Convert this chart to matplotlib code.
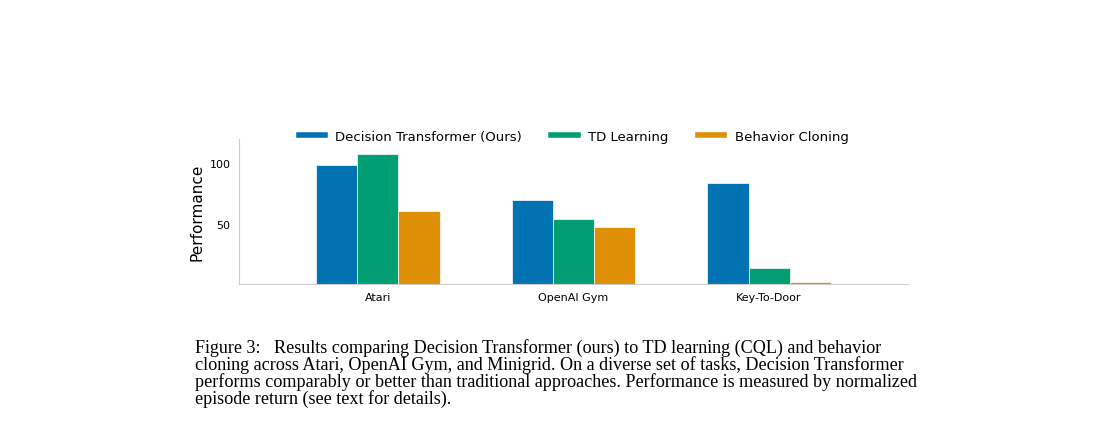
import matplotlib
matplotlib.use("Agg")
import matplotlib.pyplot as plt
import numpy as np

categories = ["Atari", "OpenAI Gym", "Key-To-Door"]
series_names = ["Decision Transformer (Ours)", "TD Learning", "Behavior Cloning"]
dt = [98.3, 69.2, 83.3]
td = [107.5, 54.2, 13.3]
bc = [60.8, 47.5, 1.7]
colors = ["#0173b2", "#029e73", "#de8f05"]
caption = [
    "Figure 3:   Results comparing Decision Transformer (ours) to TD learning (CQL) and behavior",
    "cloning across Atari, OpenAI Gym, and Minigrid. On a diverse set of tasks, Decision Transformer",
    "performs comparably or better than traditional approaches. Performance is measured by normalized",
    "episode return (see text for details).",
]

fig = plt.figure(figsize=(11.05, 4.35), dpi=100)
ax = fig.add_axes([239/1105, 1-285/435, (908-239)/1105, (285-140)/435])
x = np.arange(len(categories))
w = 0.21
for i, (vals, name) in enumerate(zip([dt, td, bc], series_names)):
    ax.bar(x + (i-1)*w, vals, w, color=colors[i], label=name, edgecolor="white", linewidth=0.5)
ax.set_xlim(-0.71, 2.71)
ax.set_ylim(0, 120)
ax.set_xticks(x)
ax.set_xticklabels(categories, fontsize=8)
ax.set_yticks([50, 100])
ax.set_yticklabels(["50", "100"], fontsize=8)
ax.tick_params(length=0, pad=6)
for s in ["top", "right"]:
    ax.spines[s].set_visible(False)
for s in ["left", "bottom"]:
    ax.spines[s].set_color("#cccccc")
ax.set_ylabel("Performance", fontsize=11)
from matplotlib.lines import Line2D
handles = [Line2D([0], [0], color=c, lw=4) for c in colors]
ax.legend(handles, series_names, loc="lower center", bbox_to_anchor=(0.5, 0.89), ncol=3,
          frameon=False, fontsize=9.5, handlelength=2.0, columnspacing=2.2)

for k, line in enumerate(caption):
    fig.text(195/1105, 1-(348+k*17)/435, line, fontsize=13.1, family="Liberation Serif",
             va="center", ha="left")
fig.savefig("out.png", dpi=100)
